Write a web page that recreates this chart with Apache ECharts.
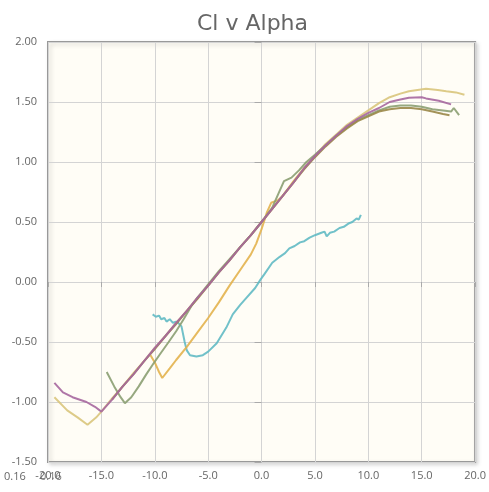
<!DOCTYPE html>
<html><head><meta charset="utf-8">
<script src="https://cdn.jsdelivr.net/npm/echarts@6/dist/echarts.min.js"></script>
<style>html,body{margin:0;padding:0;background:#fff}#c{width:489px;height:492px}</style>
</head><body><div id="c"></div>
<script>
const titleText = 'Cl v Alpha';
const xTicks = [-20, -15, -10, -5, 0, 5, 10, 15, 20];
const yTicks = [-1.5, -1.0, -0.5, 0, 0.5, 1.0, 1.5, 2.0];
const seriesNames = ['Re 1', 'Re 2', 'Re 3', 'Re 4', 'Re 5', 'Re 6'];

const tealData = [[-10.2,-0.27],[-9.9,-0.29],[-9.6,-0.28],[-9.4,-0.31],[-9.1,-0.30],[-8.9,-0.33],[-8.6,-0.31],[-8.3,-0.34],[-8.0,-0.33],[-7.8,-0.34],[-7.5,-0.37],[-7.2,-0.50],[-7.0,-0.57],[-6.7,-0.61],[-6.1,-0.62],[-5.5,-0.61],[-5.0,-0.58],[-4.2,-0.51],[-3.3,-0.38],[-2.7,-0.27],[-2.0,-0.19],[-1.4,-0.13],[-0.6,-0.05],[-0.1,0.02],[0.3,0.07],[1.0,0.16],[1.7,0.21],[2.2,0.24],[2.6,0.28],[3.1,0.30],[3.6,0.33],[4.0,0.34],[4.5,0.37],[5.0,0.39],[5.6,0.41],[5.9,0.42],[6.1,0.38],[6.4,0.41],[6.8,0.42],[7.3,0.45],[7.7,0.46],[8.2,0.49],[8.5,0.50],[8.9,0.53],[9.1,0.52],[9.3,0.56]];

const orangeData = [[-10.4,-0.61],[-10.0,-0.67],[-9.6,-0.75],[-9.3,-0.80],[-8.6,-0.72],[-8.0,-0.65],[-7.0,-0.54],[-6.0,-0.42],[-5.0,-0.30],[-4.0,-0.17],[-3.0,-0.03],[-2.0,0.10],[-1.0,0.23],[-0.5,0.32],[0.0,0.44],[0.5,0.58],[0.9,0.66],[1.5,0.68],[1.9,0.71],[2.5,0.78],[3.0,0.84],[4.0,0.95],[5.0,1.05],[6.0,1.14],[7.0,1.22],[8.0,1.29],[9.0,1.35]];

const tanData = [[-19.4,-0.96],[-18.2,-1.07],[-17.2,-1.13],[-16.3,-1.19],[-15.5,-1.13],[-15.0,-1.08],[-14.0,-0.97],[-13.0,-0.87],[-12.0,-0.76],[-11.0,-0.66],[-10.0,-0.55],[-9.0,-0.45],[-8.0,-0.34],[-7.0,-0.24],[-6.0,-0.13],[-5.0,-0.03],[-4.0,0.08],[-3.0,0.18],[-2.0,0.29],[-1.0,0.39],[0.0,0.50],[1.0,0.61],[2.0,0.72],[3.0,0.83],[4.0,0.95],[5.0,1.05],[6.0,1.15],[7.0,1.23],[8.0,1.31],[9.0,1.37],[10.0,1.43],[11.0,1.49],[12.0,1.54],[13.0,1.57],[13.8,1.59],[14.6,1.60],[15.4,1.61],[16.5,1.60],[17.3,1.59],[18.2,1.58],[19.0,1.56]];

const greenData = [[-14.5,-0.75],[-13.8,-0.87],[-13.2,-0.96],[-12.8,-1.01],[-12.2,-0.96],[-11.5,-0.87],[-10.8,-0.77],[-10.2,-0.69],[-9.5,-0.60],[-8.7,-0.50],[-8.0,-0.41],[-7.3,-0.31],[-6.5,-0.19],[-6.0,-0.13],[-5.0,-0.02],[-4.0,0.09],[-3.0,0.19],[-2.0,0.29],[-1.0,0.39],[0.0,0.50],[1.0,0.62],[1.6,0.74],[2.1,0.84],[2.8,0.87],[3.5,0.93],[4.2,1.00],[5.0,1.06],[6.0,1.14],[7.0,1.22],[8.0,1.29],[9.0,1.35],[10.0,1.39],[11.0,1.43],[12.0,1.46],[13.0,1.47],[14.0,1.47],[15.0,1.46],[16.0,1.44],[17.0,1.43],[17.75,1.42],[18.0,1.45],[18.5,1.39]];

const brownData = [[-14.0,-0.98],[-13.0,-0.87],[-12.0,-0.77],[-11.0,-0.66],[-10.0,-0.56],[-9.0,-0.45],[-8.0,-0.35],[-7.0,-0.24],[-6.0,-0.14],[-5.0,-0.03],[-4.0,0.08],[-3.0,0.18],[-2.0,0.29],[-1.0,0.39],[0.0,0.50],[1.0,0.61],[2.0,0.72],[3.0,0.83],[4.0,0.94],[5.0,1.04],[6.0,1.13],[7.0,1.21],[8.0,1.28],[9.0,1.34],[10.0,1.38],[11.0,1.42],[12.0,1.44],[13.0,1.45],[14.0,1.45],[15.0,1.44],[16.0,1.42],[17.0,1.40],[17.6,1.39]];

const purpleData = [[-19.4,-0.84],[-18.6,-0.92],[-17.7,-0.96],[-16.4,-1.00],[-15.6,-1.04],[-15.0,-1.08],[-14.0,-0.98],[-13.0,-0.87],[-12.0,-0.77],[-11.0,-0.66],[-10.0,-0.55],[-9.0,-0.45],[-8.0,-0.34],[-7.0,-0.24],[-6.0,-0.13],[-5.0,-0.03],[-4.0,0.08],[-3.0,0.18],[-2.0,0.29],[-1.0,0.39],[0.0,0.50],[1.0,0.61],[2.0,0.72],[3.0,0.83],[4.0,0.95],[5.0,1.05],[6.0,1.14],[7.0,1.22],[8.0,1.30],[9.0,1.36],[10.0,1.41],[11.0,1.45],[12.0,1.50],[13.0,1.52],[13.8,1.535],[15.0,1.54],[15.4,1.53],[16.6,1.51],[17.75,1.48]];

const allData = [tealData, orangeData, tanData, greenData, brownData, purpleData];
const colors = ['#62bac4', '#e3b24e', '#d9c57c', '#8b9f72', '#9a8748', '#a6679f'];

const chart = echarts.init(document.getElementById('c'));
const FONT = '"Open Sans", "DejaVu Sans", sans-serif';
chart.setOption({
  animation: false,
  title: { text: titleText, left: 192, top: 8,
    textStyle: { fontFamily: '"DejaVu Sans", sans-serif', fontSize: 22, fontWeight: 'normal', color: '#666' } },
  grid: { left: 48, right: 13, top: 42, bottom: 30, show: true,
    backgroundColor: '#fffdf6', borderColor: '#999', borderWidth: 2,
    shadowColor: 'rgba(0,0,0,0.15)', shadowBlur: 4, shadowOffsetX: 2, shadowOffsetY: 2 },
  xAxis: { type: 'value', min: xTicks[0], max: xTicks[xTicks.length-1], interval: 5,
    axisLine: { show: false },
    axisTick: { show: true, length: 5, lineStyle: { color: '#aaa' } },
    splitLine: { show: true, lineStyle: { color: '#d4d4d4', width: 1 } },
    axisLabel: { color: '#666', fontFamily: FONT, fontSize: 11, margin: 8,
      formatter: v => v.toFixed(1) } },
  yAxis: { type: 'value', min: yTicks[0], max: yTicks[yTicks.length-1], interval: 0.5,
    axisLine: { show: false },
    axisTick: { show: true, length: 7, lineStyle: { color: '#aaa' } },
    splitLine: { show: true, lineStyle: { color: '#d4d4d4', width: 1 } },
    axisLabel: { color: '#666', fontFamily: FONT, fontSize: 11, margin: 11,
      formatter: v => v.toFixed(2) } },
  graphic: [
    { type: 'text', left: 4, top: 471, style: { text: '0.16', fill: '#666', font: '11px ' + FONT } },
    { type: 'text', left: 40, top: 471, style: { text: '0.16', fill: '#777', font: '11px ' + FONT } }
  ],
  series: allData.map((d, i) => ({
    name: seriesNames[i], type: 'line', data: d, showSymbol: false, smooth: false,
    lineStyle: { color: colors[i], width: 2, opacity: 0.9 }, itemStyle: { color: colors[i] }
  }))
});
</script></body></html>
